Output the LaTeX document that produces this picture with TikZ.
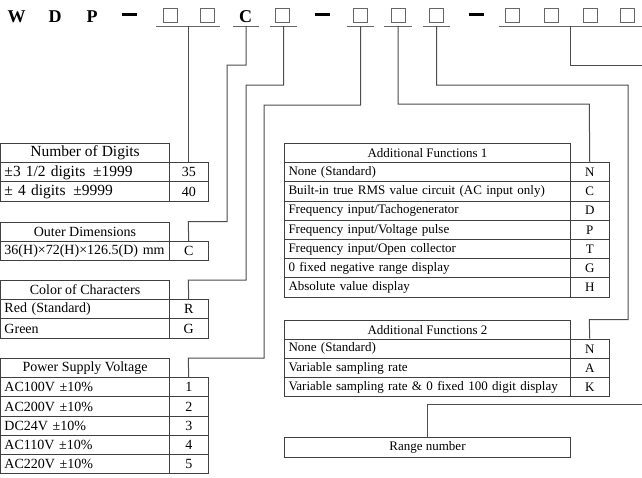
\documentclass[tikz,border=0pt]{standalone}
\usepackage{fontspec}
\setmainfont{Liberation Serif}
\usetikzlibrary{positioning}
\tikzset{
  letter/.style={font=\fontsize{18}{18}\selectfont\bfseries,inner sep=0pt,anchor=base},
  slot/.style={draw=black!60,line width=1pt,minimum width=14pt,minimum height=14pt,inner sep=0pt},
  uline/.style={draw=black!60,line width=1pt},
  link/.style={draw=black!70,line width=1pt},
  cell/.style={draw=black!75,line width=1pt,anchor=north west,minimum height=19.2pt,inner sep=0pt},
  head/.style={cell,minimum width=#1},
  row/.style={cell,text width=#1,inner xsep=4pt,align=left},
  code/.style={cell,minimum width=38.5pt},
  lftext/.style={font=\fontsize{14}{16}\selectfont},
  rttext/.style={font=\fontsize{13}{15}\selectfont},
}

\begin{document}
\begin{tikzpicture}[x=1pt,y=-1pt]
  \useasboundingbox (0,0) rectangle (642,477);
  % model number
  \node[letter] (w) at (16.5,22) {W};
  \node[letter] (d) at (55,22) {D};
  \node[letter] (p) at (92,22) {P};
  \node[letter] (c) at (245.5,22) {C};
  \foreach \n/\x in {1/129.5,2/322.5,3/476}
    \node[inner sep=0pt] (dash\n) at (\x,14.3) {\rule{15pt}{3pt}};
  \foreach \n/\x in {1/170.5,2/207.5,3/282.5,4/360.5,5/398,6/436,7/512.5,8/551.5,9/590,10/627.5}
    \node[slot] (s\n) at (\x,15.5) {};
  % underlines
  \draw[uline] (156,26) -- coordinate (u1) (220,26);
  \draw[uline] (233,26) -- coordinate (u2) (259,26);
  \draw[uline] (270,26) -- coordinate (u3) (297,26);
  \draw[uline] (347,26) -- coordinate (u4) (374,26);
  \draw[uline] (384,26) -- coordinate (u5) (412,26);
  \draw[uline] (423,26) -- coordinate (u6) (450,26);
  \draw[uline] (499,26) -- coordinate (u7) (642,26);

  % Number of Digits
  \node[head=169pt,font=\fontsize{15.5}{17}\selectfont] (nd) at (0,143) {Number of Digits};
  \foreach \t/\k [count=\i] in {{±3 1/2 digits\enspace ±1999}/35,{± 4 digits\enspace ±9999}/40}{
    \node[row=161pt,font=\fontsize{15.5}{17}\selectfont] (nd\i) at (0,{143+19.2*\i}) {\t};
    \node[code,lftext] (ndk\i) at (169,{143+19.2*\i}) {\k};
  }
  % Outer Dimensions
  \node[head=169pt,lftext] (od) at (0,222) {Outer Dimensions};
  \node[row=161pt,lftext] (od1) at (0,241.2) {36(H)×72(H)×126.5(D) mm};
  \node[code,lftext] (odk1) at (169,241.2) {C};
  % Color of Characters
  \node[head=169pt,lftext] (cc) at (0,280) {Color of Characters};
  \foreach \t/\k [count=\i] in {{Red (Standard)}/R,{Green}/G}{
    \node[row=161pt,lftext] (cc\i) at (0,{280+19.2*\i}) {\t};
    \node[code,lftext] (cck\i) at (169,{280+19.2*\i}) {\k};
  }
  % Power Supply Voltage
  \node[head=169pt,lftext] (ps) at (0,358) {Power Supply Voltage};
  \foreach \t/\k [count=\i] in {{AC100V ±10\%}/1,{AC200V ±10\%}/2,{DC24V ±10\%}/3,{AC110V ±10\%}/4,{AC220V ±10\%}/5}{
    \node[row=161pt,lftext] (ps\i) at (0,{358+19.2*\i}) {\t};
    \node[code,lftext] (psk\i) at (169,{358+19.2*\i}) {\k};
  }

  % Additional Functions 1
  \node[head=286pt,rttext] (af1) at (284,143) {Additional Functions 1};
  \foreach \t/\k [count=\i] in {{None (Standard)}/N,{Built-in true RMS value circuit (AC input only)}/C,
      {Frequency input/Tachogenerator}/D,{Frequency input/Voltage pulse}/P,
      {Frequency input/Open collector}/T,{0 fixed negative range display}/G,{Absolute value display}/H}{
    \node[row=278pt,rttext] (af1\i) at (284,{143+19.2*\i}) {\t};
    \node[code,rttext] (af1k\i) at (570,{143+19.2*\i}) {\k};
  }
  % Additional Functions 2
  \node[head=286pt,rttext] (af2) at (284,319.5) {Additional Functions 2};
  \foreach \t/\k [count=\i] in {{None (Standard)}/N,{Variable sampling rate}/A,
      {Variable sampling rate \& 0 fixed 100 digit display}/K}{
    \node[row=278pt,rttext] (af2\i) at (284,{319.5+19.2*\i}) {\t};
    \node[code,rttext] (af2k\i) at (570,{319.5+19.2*\i}) {\k};
  }
  % Range number
  \node[head=286pt,rttext,minimum height=20pt] (rng) at (284,437) {Range number};

  % connectors
  \coordinate (r7) at (642,65);
  \coordinate (r8) at (642,404);
  \draw[link] (u1) -- (u1 |- ndk1.north);
  \draw[link] (u2) |- (227,65) |- (188.25,221.5) -- (odk1.north);
  \draw[link] (u3) |- (246,85) |- (188.25,280) -- (cck1.north);
  \draw[link] (u4) |- (264,105) |- (188.25,358) -- (psk1.north);
  \draw[link] (u5) |- (589.25,104) -- (af1k1.north);
  \draw[link] (u6) |- (628,85) |- (589.25,319.5) -- (af2k1.north);
  \draw[link] (u7) |- (r7);
  \draw[link] (rng.north) |- (r8);
\end{tikzpicture}
\end{document}
